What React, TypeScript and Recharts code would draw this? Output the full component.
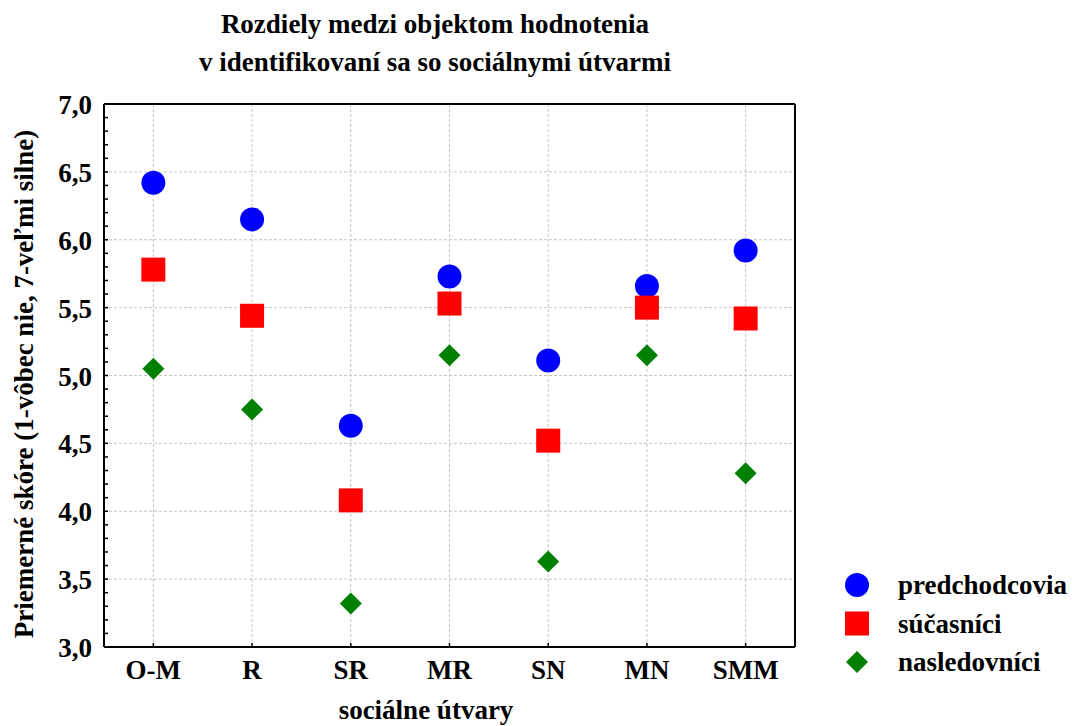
import { ScatterChart, Scatter, XAxis, YAxis, CartesianGrid, ReferenceLine } from 'recharts';

const categories = ['O-M', 'R', 'SR', 'MR', 'SN', 'MN', 'SMM'];
const predchodcovia = [6.42, 6.15, 4.63, 5.73, 5.11, 5.66, 5.92];
const sucasnici = [5.78, 5.44, 4.08, 5.53, 4.52, 5.5, 5.42];
const nasledovnici = [5.05, 4.75, 3.32, 5.15, 3.63, 5.15, 4.28];
const yMajorTicks = [3.0, 3.5, 4.0, 4.5, 5.0, 5.5, 6.0, 6.5, 7.0];

const title = ['Rozdiely medzi objektom hodnotenia', 'v identifikovaní sa so sociálnymi útvarmi'];
const xTitle = 'sociálne útvary';
const yTitle = 'Priemerné skóre (1-vôbec nie, 7-veľmi silne)';

// minor ticks every 0.1 between the major ones
const yMinorTicks: number[] = [];
yMajorTicks.forEach((t, i) => {
  if (i === yMajorTicks.length - 1) {
    yMinorTicks.push(t);
    return;
  }
  for (let k = 0; k < 5; k++) yMinorTicks.push(Math.round((t + k * 0.1) * 10) / 10);
});

const xIdx = categories.map((_, i) => i);
const toPoints = (vals: number[]) => vals.map((v, i) => ({ x: i, y: v, name: categories[i] }));

const FONT = '"Liberation Serif", "Times New Roman", serif';

const series = [
  { name: 'predchodcovia', values: predchodcovia, color: '#0000ff', shape: 'circle' },
  { name: 'súčasníci', values: sucasnici, color: '#ff0000', shape: 'square' },
  { name: 'nasledovníci', values: nasledovnici, color: '#008000', shape: 'diamond' },
];

const Marker = ({ cx, cy, shape, color }: any) => {
  if (shape === 'circle') return <circle cx={cx} cy={cy} r={12} fill={color} />;
  if (shape === 'square') return <rect x={cx - 12} y={cy - 12} width={24} height={24} fill={color} />;
  return (
    <polygon
      points={`${cx},${cy - 11} ${cx + 11},${cy} ${cx},${cy + 11} ${cx - 11},${cy}`}
      fill={color}
    />
  );
};

const LeftTick = ({ x, y, payload }: any) => {
  const v = payload.value;
  const major = yMajorTicks.some((t) => Math.abs(t - v) < 1e-6);
  return (
    <g>
      <line x1={x} y1={y} x2={x + 4} y2={y} stroke="#000" strokeWidth={1.5} />
      {major && (
        <text x={x - 12} y={y + 10} textAnchor="end" fontFamily={FONT} fontWeight="bold" fontSize={27} fill="#000">
          {v.toFixed(1).replace('.', ',')}
        </text>
      )}
    </g>
  );
};

const RightTick = ({ x, y }: any) => (
  <line x1={x} y1={y} x2={x - 4} y2={y} stroke="#000" strokeWidth={1.5} />
);

const BottomTick = ({ x, y, payload }: any) => (
  <g>
    <line x1={x} y1={y} x2={x} y2={y - 4} stroke="#000" strokeWidth={1.5} />
    <text x={x} y={y + 32} textAnchor="middle" fontFamily={FONT} fontWeight="bold" fontSize={27} fill="#000">
      {categories[payload.value]}
    </text>
  </g>
);

const TopTick = ({ x, y }: any) => (
  <line x1={x} y1={y} x2={x} y2={y + 4} stroke="#000" strokeWidth={1.5} />
);

const axisLine = { stroke: '#000', strokeWidth: 2 };
const gridColor = '#c4c4c4';

export default function App() {
  return (
    <div style={{ position: 'absolute', left: 0, top: 0, width: 1072, height: 726, background: '#fff' }}>
      <ScatterChart
        width={1072}
        height={726}
        margin={{ top: 94, right: 267, bottom: 39, left: 4 }}
      >
        <CartesianGrid stroke={gridColor} strokeDasharray="3 2" horizontal={false} />
        {yMajorTicks.slice(1, -1).map((t) => (
          <ReferenceLine key={t} y={t} stroke={gridColor} strokeDasharray="3 2" />
        ))}
        <XAxis
          type="number"
          dataKey="x"
          domain={[-0.5, 6.5]}
          ticks={xIdx}
          interval={0}
          height={40}
          tickSize={0}
          tickMargin={0}
          tickLine={false}
          axisLine={axisLine}
          tick={<BottomTick />}
        />
        <XAxis
          xAxisId="top"
          orientation="top"
          type="number"
          dataKey="x"
          domain={[-0.5, 6.5]}
          ticks={xIdx}
          interval={0}
          height={10}
          tickSize={0}
          tickMargin={0}
          tickLine={false}
          axisLine={axisLine}
          tick={<TopTick />}
        />
        <YAxis
          type="number"
          dataKey="y"
          domain={[3, 7]}
          ticks={yMinorTicks}
          interval={0}
          width={100}
          tickSize={0}
          tickMargin={0}
          tickLine={false}
          axisLine={axisLine}
          tick={<LeftTick />}
        />
        <YAxis
          yAxisId="right"
          orientation="right"
          type="number"
          dataKey="y"
          domain={[3, 7]}
          ticks={yMinorTicks}
          interval={0}
          width={10}
          tickSize={0}
          tickMargin={0}
          tickLine={false}
          axisLine={axisLine}
          tick={<RightTick />}
        />
        {series.map((s) => (
          <Scatter
            key={s.name}
            name={s.name}
            data={toPoints(s.values)}
            isAnimationActive={false}
            shape={(p: any) => <Marker cx={p.cx} cy={p.cy} shape={s.shape} color={s.color} />}
          />
        ))}
      </ScatterChart>
      <svg
        width={1072}
        height={726}
        style={{ position: 'absolute', left: 0, top: 0, pointerEvents: 'none' }}
      >
        <g fontFamily={FONT} fontWeight="bold" fontSize={27} fill="#000">
          <text x={435} y={33} textAnchor="middle">{title[0]}</text>
          <text x={435} y={71} textAnchor="middle">{title[1]}</text>
          <text x={426} y={719} textAnchor="middle">{xTitle}</text>
          <text x={33} y={384} textAnchor="middle" transform="rotate(-90 33 384)">{yTitle}</text>
          {series.map((s, i) => {
            const cy = 585 + i * 38.5;
            return (
              <g key={s.name}>
                <Marker cx={857} cy={cy} shape={s.shape} color={s.color} />
                <text x={898} y={cy + 9}>{s.name}</text>
              </g>
            );
          })}
        </g>
      </svg>
    </div>
  );
}
